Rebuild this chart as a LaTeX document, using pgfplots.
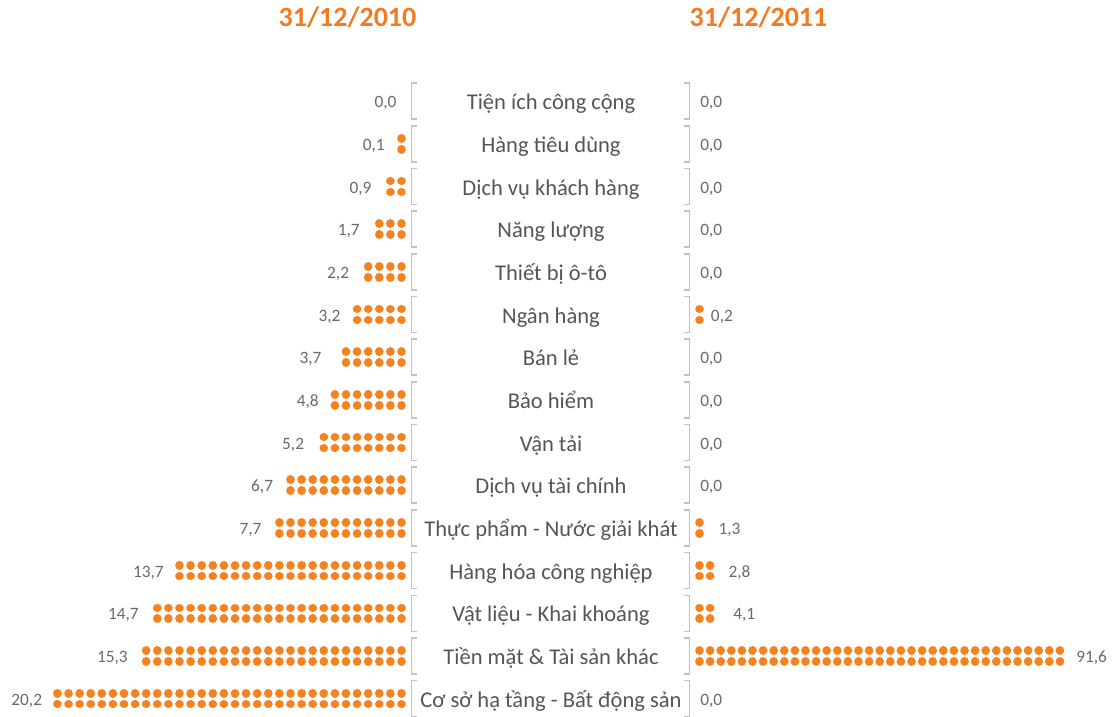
\documentclass[border=0pt]{standalone}
\usepackage{fontspec}
\setmainfont{Carlito}
\usepackage{pgfplots}
\pgfplotsset{compat=1.18}
\definecolor{dot}{HTML}{F58220}
\definecolor{ttl}{HTML}{F27B21}
\definecolor{lbl}{HTML}{555555}
\definecolor{val}{HTML}{6A6A6A}
\definecolor{brk}{HTML}{C2C2C2}
\pgfplotsset{
  dotsL/.style={draw=dot, line width=6.5pt, line cap=round, dash pattern=on 0.01pt off 8.315pt, no markers, sharp plot, forget plot},
  dotsR/.style={draw=dot, line width=6.5pt, line cap=round, dash pattern=on 0.01pt off 7.94pt, no markers, sharp plot, forget plot},
}
% left row: #1 upper y, #2 lower y, #3 x of last dot (+2px)
\newcommand\rowL[3]{%
  \addplot[dotsL] coordinates {(401.5,#1) (#3,#1)};
  \addplot[dotsL] coordinates {(401.5,#2) (#3,#2)};}
\newcommand\rowR[3]{%
  \addplot[dotsR] coordinates {(699.5,#1) (#3,#1)};
  \addplot[dotsR] coordinates {(699.5,#2) (#3,#2)};}
\begin{document}
\begin{tikzpicture}
\begin{axis}[
  scale only axis, width=836.25pt, height=537.75pt,
  xmin=0, xmax=1115, ymin=0, ymax=717, y dir=reverse,
  axis lines=none, clip=false,
]
% brackets
\pgfplotsinvokeforeach{0,...,14}{
  \draw[brk, line width=1.1pt] (axis cs:416.5,{101.1+42.68*#1-18}) -- (axis cs:411.3,{101.1+42.68*#1-18}) -- (axis cs:411.3,{101.1+42.68*#1+18}) -- (axis cs:416.5,{101.1+42.68*#1+18});
  \draw[brk, line width=1.1pt] (axis cs:684,{101.1+42.68*#1-18}) -- (axis cs:689.3,{101.1+42.68*#1-18}) -- (axis cs:689.3,{101.1+42.68*#1+18}) -- (axis cs:684,{101.1+42.68*#1+18});
}
% 2010 dots (columns: 0,1,2,3,4,5,6,7,8,11,12,21,23,24,32)
\rowL{138.38}{149.18}{399.5}
\rowL{181.06}{191.86}{388.4}
\rowL{223.74}{234.54}{377.3}
\rowL{266.42}{277.22}{366.2}
\rowL{309.1}{319.9}{355.1}
\rowL{351.78}{362.58}{344.0}
\rowL{394.46}{405.26}{332.9}
\rowL{437.14}{447.94}{321.8}
\rowL{479.82}{490.62}{288.5}
\rowL{522.5}{533.3}{277.4}
\rowL{565.18}{575.98}{177.5}
\rowL{607.86}{618.66}{155.3}
\rowL{650.54}{661.34}{144.2}
\rowL{693.22}{704.02}{55.4}
% 2011 dots
\rowR{309.1}{319.9}{701.5}
\rowR{522.5}{533.3}{701.5}
\rowR{565.18}{575.98}{712.1}
\rowR{607.86}{618.66}{712.1}
\rowR{650.54}{661.34}{1061.9}
% titles
\node[anchor=base, inner sep=0, text=ttl, font=\fontsize{21}{21}\selectfont\bfseries] at (axis cs:347.5,27) {31/12/2010};
\node[anchor=base, inner sep=0, text=ttl, font=\fontsize{21}{21}\selectfont\bfseries] at (axis cs:758.5,27) {31/12/2011};
% category labels
\tikzset{cat/.style={anchor=base, inner sep=0, text=lbl, font=\fontsize{16.9}{16.9}\selectfont}}
\node[cat] at (axis cs:551,109.8) {Tiện ích công cộng};
\node[cat] at (axis cs:551,152.48) {Hàng tiêu dùng};
\node[cat] at (axis cs:551,195.16) {Dịch vụ khách hàng};
\node[cat] at (axis cs:551,237.84) {Năng lượng};
\node[cat] at (axis cs:551,280.52) {Thiết bị ô-tô};
\node[cat] at (axis cs:551,323.2) {Ngân hàng};
\node[cat] at (axis cs:551,365.88) {Bán lẻ};
\node[cat] at (axis cs:551,408.56) {Bảo hiểm};
\node[cat] at (axis cs:551,451.24) {Vận tải};
\node[cat] at (axis cs:551,493.92) {Dịch vụ tài chính};
\node[cat] at (axis cs:551,536.6) {Thực phẩm - Nước giải khát};
\node[cat] at (axis cs:551,579.28) {Hàng hóa công nghiệp};
\node[cat] at (axis cs:551,621.96) {Vật liệu - Khai khoáng};
\node[cat] at (axis cs:551,664.64) {Tiền mặt \& Tài sản khác};
\node[cat] at (axis cs:551,707.32) {Cơ sở hạ tầng - Bất động sản};
% value labels
\tikzset{vl/.style={anchor=base east, inner sep=0, text=val, font=\fontsize{13}{13}\selectfont},
         vr/.style={anchor=base west, inner sep=0, text=val, font=\fontsize{13}{13}\selectfont}}
% 2010
\node[vl] at (axis cs:396.7,107.7) {0,0};
\node[vl] at (axis cs:385,150.4) {0,1};
\node[vl] at (axis cs:371.7,193.1) {0,9};
\node[vl] at (axis cs:360,235.7) {1,7};
\node[vl] at (axis cs:349.3,278.4) {2,2};
\node[vl] at (axis cs:340.7,321.1) {3,2};
\node[vl] at (axis cs:321.7,363.8) {3,7};
\node[vl] at (axis cs:319,406.5) {4,8};
\node[vl] at (axis cs:304.3,449.1) {5,2};
\node[vl] at (axis cs:273.3,491.8) {6,7};
\node[vl] at (axis cs:261.7,534.5) {7,7};
\node[vl] at (axis cs:164,577.2) {13,7};
\node[vl] at (axis cs:139,619.9) {14,7};
\node[vl] at (axis cs:128,662.5) {15,3};
\node[vl] at (axis cs:42.3,705.2) {20,2};
% 2011
\node[vr] at (axis cs:700,107.7) {0,0};
\node[vr] at (axis cs:700,150.4) {0,0};
\node[vr] at (axis cs:700,193.1) {0,0};
\node[vr] at (axis cs:700,235.7) {0,0};
\node[vr] at (axis cs:700,278.4) {0,0};
\node[vr] at (axis cs:710.7,321.1) {0,2};
\node[vr] at (axis cs:700,363.8) {0,0};
\node[vr] at (axis cs:700,406.5) {0,0};
\node[vr] at (axis cs:700,449.1) {0,0};
\node[vr] at (axis cs:700,491.8) {0,0};
\node[vr] at (axis cs:718.3,534.5) {1,3};
\node[vr] at (axis cs:728.3,577.2) {2,8};
\node[vr] at (axis cs:733,619.9) {4,1};
\node[vr] at (axis cs:1076,662.5) {91,6};
\node[vr] at (axis cs:700,705.2) {0,0};
\end{axis}
\pgfresetboundingbox
\path (0,0) rectangle (836.25pt,537.75pt);
\end{tikzpicture}
\end{document}
